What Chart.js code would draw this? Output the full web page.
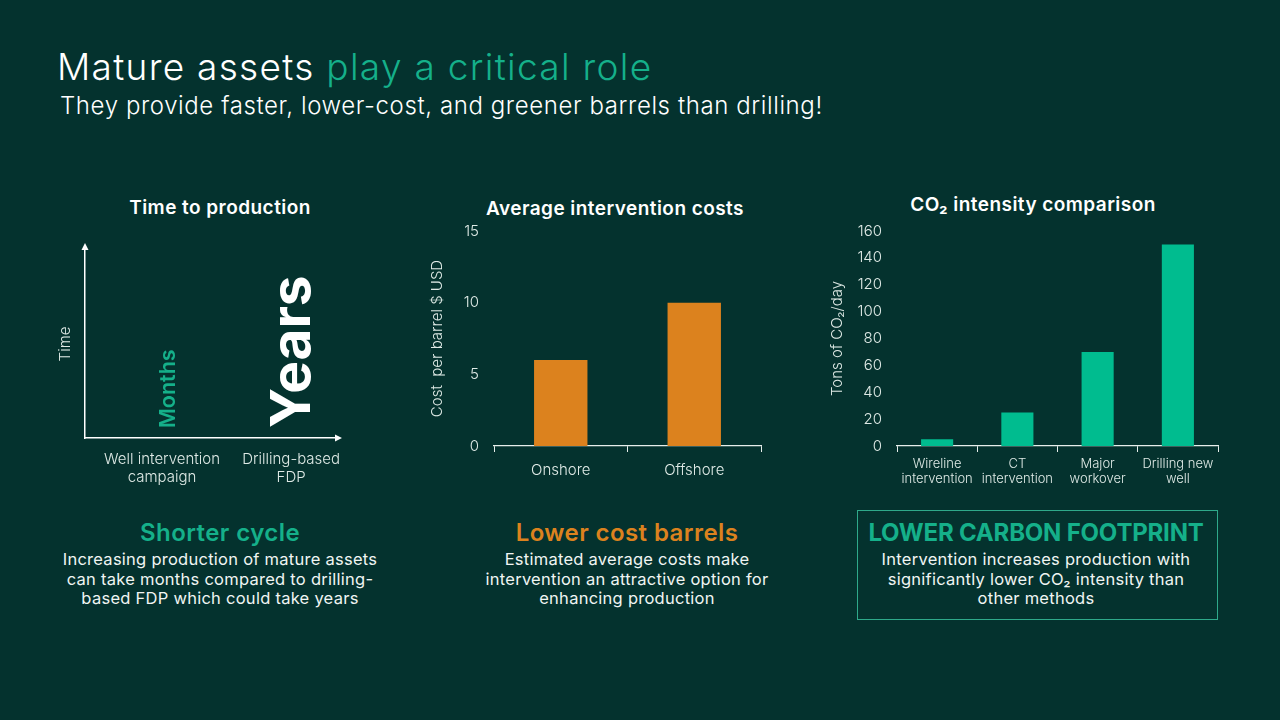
<!DOCTYPE html>
<html>
<head>
<meta charset="utf-8">
<script src="https://cdn.jsdelivr.net/npm/chart.js@4/dist/chart.umd.min.js"></script>
<style>
  html, body { margin: 0; padding: 0; background: #04322e; }
  #slide { position: relative; width: 1280px; height: 720px; overflow: hidden; background: #04322e; color: #fff; font-family: Inter, sans-serif; }
  #slide > div, #slide > canvas { position: absolute; }
  .line { white-space: nowrap; }
  .centered { transform: translateX(-50%); text-align: center; }
  .heading { font-size: 19px; font-weight: 600; line-height: 24px; letter-spacing: 0.45px; }
  .lead { font-size: 24px; font-weight: 600; line-height: 30px; letter-spacing: 0.42px; }
  .body { font-size: 16.5px; font-weight: 400; line-height: 19.5px; letter-spacing: 0.26px; color: #f0f5f3; }
  #box { left: 857px; top: 510px; width: 359px; height: 108px; border: 1px solid #2fa98a; }
</style>
</head>
<body>
<div id="slide">
  <div class="line" style="left:57px;top:43px;font-size:37px;font-weight:300;line-height:48px;letter-spacing:1.3px">Mature assets <span style="color:#15b08a">play a critical role</span></div>
  <div class="line" style="left:60px;top:90px;font-size:24px;font-weight:300;line-height:32px;letter-spacing:0.6px">They provide faster, lower-cost, and greener barrels than drilling!</div>

  <div class="line heading centered" style="left:220px;top:196px">Time to production</div>
  <div class="line heading centered" style="left:615px;top:197px">Average intervention costs</div>
  <div class="line heading centered" style="left:1033px;top:193px">CO₂ intensity comparison</div>

  <canvas id="timeChart" width="360" height="280" style="left:40px;top:220px;width:360px;height:280px"></canvas>
  <canvas id="costChart" width="360" height="280" style="left:420px;top:215px;width:360px;height:280px"></canvas>
  <canvas id="co2Chart" width="420" height="280" style="left:810px;top:215px;width:420px;height:280px"></canvas>

  <div class="line lead centered" style="left:220px;top:518px;color:#15b08a">Shorter cycle</div>
  <div class="line body centered" style="left:220px;top:550px">Increasing production of mature assets<br>can take months compared to drilling-<br>based FDP which could take years</div>

  <div class="line lead centered" style="left:627px;top:518px;color:#dc821e">Lower cost barrels</div>
  <div class="line body centered" style="left:627px;top:550px">Estimated average costs make<br>intervention an attractive option for<br>enhancing production</div>

  <div id="box"></div>
  <div class="line lead centered" style="left:1036px;top:518px;color:#15b08a;font-weight:700;letter-spacing:-0.2px">LOWER CARBON FOOTPRINT</div>
  <div class="line body centered" style="left:1036px;top:550px">Intervention increases production with<br>significantly lower CO₂ intensity than<br>other methods</div>
</div>

<script>
const timeCategories = [['Well intervention', 'campaign'], ['Drilling-based', 'FDP']]
const timeWords = ['Months', 'Years']

const costCategories = ['Onshore', 'Offshore']
const costValues = [6, 10]

const co2Categories = [['Wireline', 'intervention'], ['CT', 'intervention'], ['Major', 'workover'], ['Drilling new', 'well']]
const co2Values = [5, 25, 70, 150]

const COLORS = {
  green: '#15b08a',
  barGreen: '#00bc8f',
  orange: '#dc821e',
  text: '#dfeae6',
  axis: '#e6eeeb',
}

Chart.defaults.font.family = 'Inter, sans-serif'
Chart.defaults.font.weight = 300
Chart.defaults.color = COLORS.text
Chart.defaults.animation = false
Chart.defaults.responsive = false
Chart.defaults.plugins.legend.display = false
Chart.defaults.plugins.tooltip.enabled = false

// fixes plot box inside the canvas so it can line up with the slide
function fixedBox(size, key) {
  return scale => { scale[key] = size }
}

// ── Time to production ───────────────────────────────────────────────────

const arrowsAndWords = {
  id: 'arrowsAndWords',
  afterDraw(chart) {
    const { ctx, chartArea: a, scales: { x } } = chart
    ctx.save()
    ctx.fillStyle = '#ffffff'
    ctx.beginPath()
    ctx.moveTo(a.left, a.top - 7)
    ctx.lineTo(a.left - 3.5, a.top)
    ctx.lineTo(a.left + 3.5, a.top)
    ctx.fill()
    ctx.beginPath()
    ctx.moveTo(a.right + 7, a.bottom)
    ctx.lineTo(a.right, a.bottom - 3.5)
    ctx.lineTo(a.right, a.bottom + 3.5)
    ctx.fill()

    const styles = [
      { color: COLORS.green, size: 21.5, weight: 600, shift: 6 },
      { color: '#ffffff', size: 55, weight: 700, shift: 2 },
    ]
    timeWords.forEach((word, i) => {
      const s = styles[i]
      ctx.save()
      ctx.translate(x.getPixelForValue(i + 1) + s.shift, a.bottom - 10)
      ctx.rotate(-Math.PI / 2)
      ctx.fillStyle = s.color
      ctx.font = `${s.weight} ${s.size}px Inter, sans-serif`
      ctx.textAlign = 'left'
      ctx.textBaseline = 'middle'
      ctx.fillText(word, 0, 0)
      ctx.restore()
    })
    ctx.restore()
  },
}

new Chart(document.getElementById('timeChart'), {
  type: 'scatter',
  data: { datasets: [{ data: [] }] },
  plugins: [arrowsAndWords],
  options: {
    layout: { padding: { top: 30, right: 65, bottom: 0, left: 16 } },
    scales: {
      x: {
        type: 'linear',
        min: 0.403,
        max: 2.34,
        afterBuildTicks: scale => { scale.ticks = timeCategories.map((c, i) => ({ value: i + 1 })) },
        afterFit: fixedBox(62, 'height'),
        grid: { display: false },
        border: { color: '#ffffff', width: 1.5 },
        ticks: {
          autoSkip: false,
          maxRotation: 0,
          padding: 4,
          font: { size: 15 },
          callback: (v, i) => timeCategories[i],
        },
      },
      y: {
        min: 0,
        max: 1,
        afterFit: fixedBox(29, 'width'),
        grid: { display: false },
        border: { color: '#ffffff', width: 1.5 },
        ticks: { display: false },
        title: { display: true, text: 'Time', font: { size: 15 }, padding: 0 },
      },
    },
  },
})

// ── Shared bar chart setup ───────────────────────────────────────────────

function renderBars(id, labels, values, color, opts) {
  new Chart(document.getElementById(id), {
    type: 'bar',
    data: {
      labels,
      datasets: [{ data: values, backgroundColor: color, categoryPercentage: 1, barPercentage: 0.4 }],
    },
    options: {
      layout: { padding: opts.padding },
      scales: {
        x: {
          afterFit: fixedBox(opts.xHeight, 'height'),
          grid: {
            drawOnChartArea: false,
            tickLength: 6,
            tickColor: ctx => (opts.skipLastTick && ctx.index === labels.length ? 'transparent' : COLORS.axis),
          },
          border: { color: COLORS.axis, width: 1.2 },
          ticks: { maxRotation: 0, autoSkip: false, padding: opts.xPad, font: { size: opts.xFont } },
        },
        y: {
          min: 0,
          max: opts.max,
          afterFit: fixedBox(opts.yWidth, 'width'),
          grid: { display: false },
          border: { display: false },
          ticks: { stepSize: opts.step, padding: opts.yPad, font: { size: 15 } },
          title: { display: true, text: opts.title, font: { size: 15 }, padding: 0 },
        },
      },
    },
  })
}

// ── Average intervention costs ───────────────────────────────────────────

renderBars('costChart', costCategories, costValues, COLORS.orange, {
  max: 15,
  step: 5,
  title: 'Cost  per barrel $ USD',
  padding: { top: 7, right: 19, bottom: 0, left: 8 },
  xHeight: 49,
  yWidth: 66,
  xFont: 15,
  xPad: 9,
  yPad: 7,
})

// ── CO2 intensity comparison ─────────────────────────────────────────────

renderBars('co2Chart', co2Categories, co2Values, COLORS.barGreen, {
  max: 160,
  step: 20,
  title: 'Tons of CO₂/day',
  padding: { top: 7, right: 12, bottom: 0, left: 18 },
  xHeight: 49,
  yWidth: 69,
  xFont: 13,
  xPad: 4,
  yPad: 7,
  skipLastTick: true,
})
</script>
</body>
</html>
